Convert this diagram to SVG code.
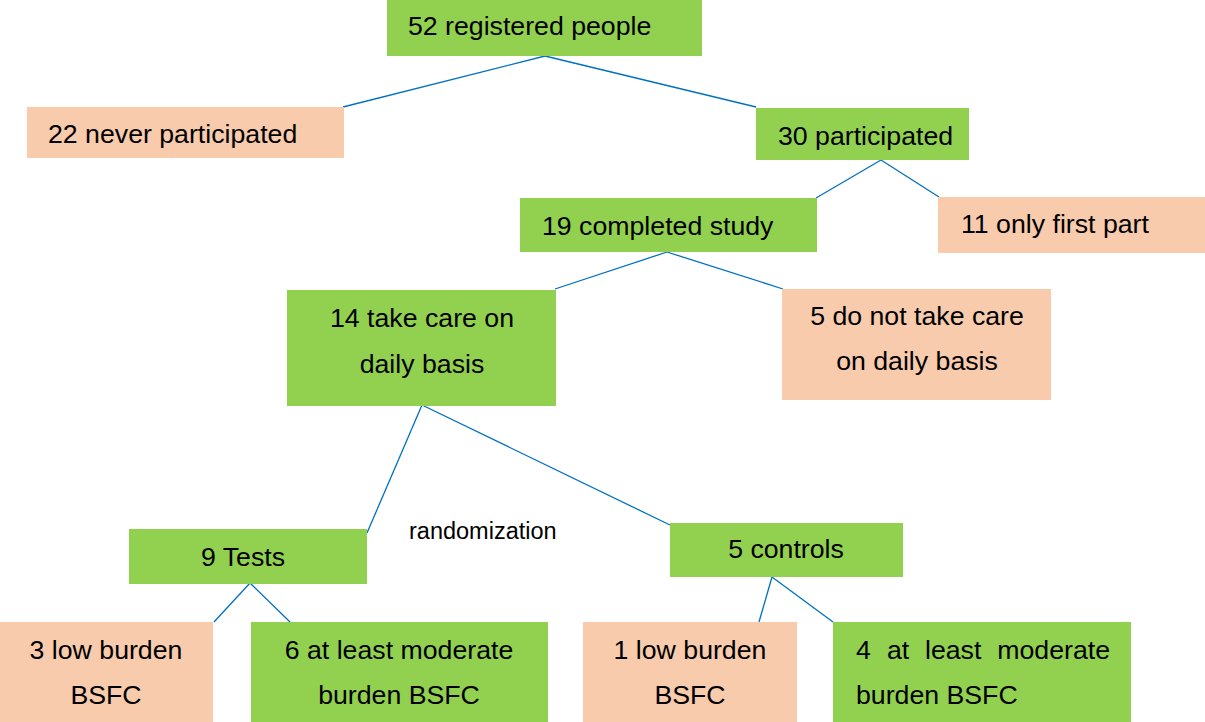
<svg xmlns="http://www.w3.org/2000/svg" width="1205" height="722" viewBox="0 0 1205 722">
<style>
.g{fill:#92D050}
.o{fill:#F8CBAD}
text{font-family:"Liberation Sans",Arial,sans-serif;font-size:26.7px;fill:#000}
.c{text-anchor:middle}
.e{text-anchor:end}
#connectors line{stroke:#0070C0;stroke-width:1.3}
</style>
<rect width="1205" height="722" fill="#fff"/>
<g id="connectors">
<line x1="545" y1="56" x2="343" y2="107"/>
<line x1="545" y1="56" x2="756" y2="107"/>
<line x1="881" y1="160" x2="816" y2="198"/>
<line x1="881" y1="160" x2="939" y2="197"/>
<line x1="667" y1="252" x2="555" y2="289"/>
<line x1="667" y1="252" x2="783" y2="289"/>
<line x1="422" y1="405" x2="367" y2="533"/>
<line x1="422" y1="405" x2="670" y2="525"/>
<line x1="250" y1="583" x2="214" y2="622"/>
<line x1="250" y1="583" x2="290" y2="622"/>
<line x1="772" y1="577" x2="759" y2="622"/>
<line x1="772" y1="577" x2="833" y2="622"/>
</g>
<g id="n52"><rect class="g" x="387" y="0" width="315" height="56"/><text x="408" y="35">52 registered people</text></g>
<g id="n22"><rect class="o" x="27" y="107" width="317" height="51"/><text x="48" y="143">22 never participated</text></g>
<g id="n30"><rect class="g" x="756" y="108" width="213" height="52"/><text x="778" y="145">30 participated</text></g>
<g id="n19"><rect class="g" x="520" y="198" width="297" height="54"/><text x="542" y="235">19 completed study</text></g>
<g id="n11"><rect class="o" x="938" y="197" width="267" height="56"/><text x="961" y="233">11 only first part</text></g>
<g id="n14"><rect class="g" x="287" y="290" width="269" height="116"/><text class="c" x="422" y="327">14 take care on</text><text class="c" x="422" y="373">daily basis</text></g>
<g id="n5d"><rect class="o" x="782" y="289" width="269" height="111"/><text class="c" x="917" y="325">5 do not take care</text><text class="c" x="917" y="370">on daily basis</text></g>
<g id="n9"><rect class="g" x="129" y="529" width="238" height="55"/><text class="c" x="243" y="566">9 Tests</text></g>
<g id="rand"><text x="409" y="539" style="font-size:23.5px">randomization</text></g>
<g id="n5c"><rect class="g" x="670" y="523" width="233" height="54"/><text class="c" x="786" y="558">5 controls</text></g>
<g id="n3"><rect class="o" x="0" y="622" width="213" height="100"/><text class="c" x="106" y="659">3 low burden</text><text class="c" x="106" y="704">BSFC</text></g>
<g id="n6"><rect class="g" x="251" y="622" width="297" height="100"/><text class="c" x="399" y="659">6 at least moderate</text><text class="c" x="399" y="704">burden BSFC</text></g>
<g id="n1"><rect class="o" x="583" y="622" width="214" height="100"/><text class="c" x="690" y="659">1 low burden</text><text class="c" x="690" y="704">BSFC</text></g>
<g id="n4"><rect class="g" x="833" y="622" width="298" height="100"/><text x="856" y="659">4</text><text x="887" y="659">at</text><text x="925" y="659">least</text><text class="e" x="1110" y="659">moderate</text><text x="856" y="704">burden BSFC</text></g>
</svg>
